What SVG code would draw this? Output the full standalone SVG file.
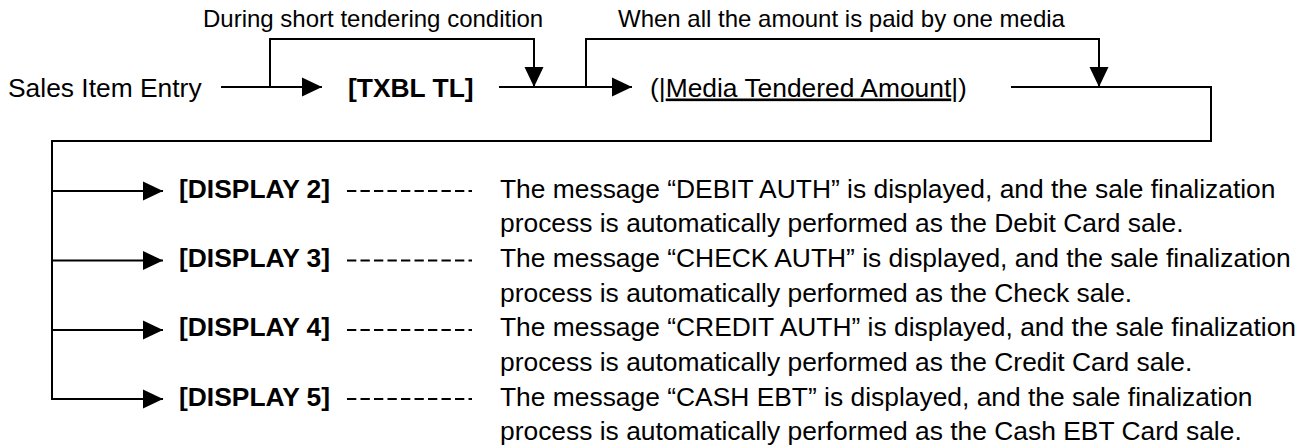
<svg xmlns="http://www.w3.org/2000/svg" width="1316" height="448" viewBox="0 0 1316 448">
<style>
text{font-family:"Liberation Sans",Arial,Helvetica,sans-serif;fill:#000}
.t{font-size:26.4px}
.b{font-size:26.4px;font-weight:bold}
.lbl{font-size:24px}
.ln{stroke:#000;stroke-width:2;fill:none}
.arr{stroke:#000;stroke-width:2;fill:none;marker-end:url(#ah)}
.dash{stroke:#000;stroke-width:2;stroke-dasharray:9.3 4.2;fill:none}
</style>
<defs>
<marker id="ah" markerWidth="20" markerHeight="20" viewBox="0 0 20 20" refX="20" refY="10" markerUnits="userSpaceOnUse" orient="auto">
<path d="M0,0.5 L20,10 L0,19.5 Z" fill="#000"/>
</marker>
</defs>
<rect width="1316" height="448" fill="#fff"/>
<g id="connectors">
<line class="arr" x1="221" y1="87" x2="322" y2="87"/>
<path class="ln" d="M270,87 V39 H534"/>
<line class="arr" x1="534" y1="38" x2="534" y2="87"/>
<line class="arr" x1="499" y1="87" x2="632" y2="87"/>
<path class="ln" d="M586,87 V39 H1099"/>
<line class="arr" x1="1099" y1="38" x2="1099" y2="87"/>
<path class="ln" d="M1011,87 H1211 V141 H52 V399"/>
<line class="arr" x1="52" y1="191" x2="163" y2="191"/>
<line class="arr" x1="52" y1="260.5" x2="163" y2="260.5"/>
<line class="arr" x1="52" y1="330" x2="163" y2="330"/>
<line class="arr" x1="51" y1="399" x2="163" y2="399"/>
<line class="dash" x1="347" y1="191" x2="472" y2="191"/>
<line class="dash" x1="347" y1="260.5" x2="472" y2="260.5"/>
<line class="dash" x1="347" y1="330" x2="472" y2="330"/>
<line class="dash" x1="347" y1="399" x2="472" y2="399"/>
</g>
<g id="label-short">
<text class="lbl" x="203" y="27">During short tendering condition</text>
</g>
<g id="label-one-media">
<text class="lbl" x="618" y="27">When all the amount is paid by one media</text>
</g>
<g id="node-sales">
<text class="t" x="8" y="96.5">Sales Item Entry</text>
</g>
<g id="node-txbl">
<text class="b" x="348" y="96.5">[TXBL TL]</text>
</g>
<g id="node-media">
<text class="t" x="650" y="96.5">(|<tspan text-decoration="underline">Media Tendered Amount</tspan>|)</text>
</g>
<g id="node-display2">
<text class="b" x="179" y="197.5">[DISPLAY 2]</text>
<text class="t" x="500" y="197.5">The message “DEBIT AUTH” is displayed, and the sale finalization</text>
<text class="t" x="500" y="232.2">process is automatically performed as the Debit Card sale.</text>
</g>
<g id="node-display3">
<text class="b" x="179" y="266.8">[DISPLAY 3]</text>
<text class="t" x="500" y="266.8">The message “CHECK AUTH” is displayed, and the sale finalization</text>
<text class="t" x="500" y="301.5">process is automatically performed as the Check sale.</text>
</g>
<g id="node-display4">
<text class="b" x="179" y="336.2">[DISPLAY 4]</text>
<text class="t" x="500" y="336.2">The message “CREDIT AUTH” is displayed, and the sale finalization</text>
<text class="t" x="500" y="370.8">process is automatically performed as the Credit Card sale.</text>
</g>
<g id="node-display5">
<text class="b" x="179" y="405.5">[DISPLAY 5]</text>
<text class="t" x="500" y="405.5">The message “CASH EBT” is displayed, and the sale finalization</text>
<text class="t" x="500" y="440.2">process is automatically performed as the Cash EBT Card sale.</text>
</g>
</svg>
